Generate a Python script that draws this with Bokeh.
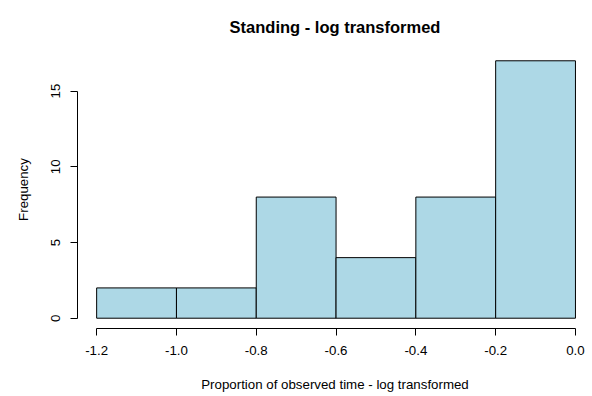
from bokeh.plotting import figure
from bokeh.models import ColumnDataSource, FixedTicker, Range1d
from bokeh.embed import file_html
from bokeh.resources import INLINE

# Histogram data
breaks = [-1.2, -1.0, -0.8, -0.6, -0.4, -0.2, 0.0]
counts = [2, 2, 8, 4, 8, 17]
x_ticks = [-1.2, -1.0, -0.8, -0.6, -0.4, -0.2, 0.0]
y_ticks = [0, 5, 10, 15]

title_text = "Standing - log transformed"
x_title = "Proportion of observed time - log transformed"
y_title = "Frequency"

src = ColumnDataSource(dict(left=breaks[:-1], right=breaks[1:],
                            top=counts, bottom=[0] * len(counts)))

FONT = "Liberation Sans"

p = figure(width=592, height=396, output_backend="svg", toolbar_location=None,
           x_range=Range1d(-1.248, 0.0427), y_range=Range1d(-0.68, 17.68),
           min_border_left=77, min_border_right=0, min_border_top=0,
           min_border_bottom=68, title=title_text)

p.quad(left="left", right="right", top="top", bottom="bottom", source=src,
       fill_color="#ADD8E6", line_color="#000000", line_width=1)

p.grid.visible = False
p.outline_line_color = None
p.background_fill_color = "white"
p.border_fill_color = "white"

p.title.align = "center"
p.title.text_font = FONT
p.title.text_font_size = "16.5px"
p.title.text_font_style = "bold"
p.title.text_color = "#000000"
p.title.offset = 2
p.title.standoff = 30

for ax in (p.xaxis[0], p.yaxis[0]):
    ax.axis_line_color = "#000000"
    ax.major_tick_line_color = "#000000"
    ax.major_tick_out = 7
    ax.major_tick_in = 0
    ax.minor_tick_out = 0
    ax.minor_tick_in = 0
    ax.major_label_text_font = FONT
    ax.major_label_text_font_size = "13.3px"
    ax.major_label_text_color = "#000000"
    ax.axis_label_text_font = FONT
    ax.axis_label_text_font_size = "13.3px"
    ax.axis_label_text_font_style = "normal"
    ax.axis_label_text_color = "#000000"

p.xaxis[0].ticker = FixedTicker(ticks=x_ticks)
p.xaxis[0].bounds = (x_ticks[0], x_ticks[-1])
p.xaxis[0].major_label_overrides = {t: f"{t:.1f}" for t in x_ticks}
p.xaxis[0].major_label_standoff = 10
p.xaxis[0].axis_label = x_title
p.xaxis[0].axis_label_standoff = 19

p.yaxis[0].ticker = FixedTicker(ticks=y_ticks)
p.yaxis[0].bounds = (y_ticks[0], y_ticks[-1])
p.yaxis[0].major_label_orientation = "vertical"
p.yaxis[0].major_label_standoff = 10
p.yaxis[0].axis_label = y_title
p.yaxis[0].axis_label_standoff = 18

open("out.html", "w").write(file_html(p, INLINE))
